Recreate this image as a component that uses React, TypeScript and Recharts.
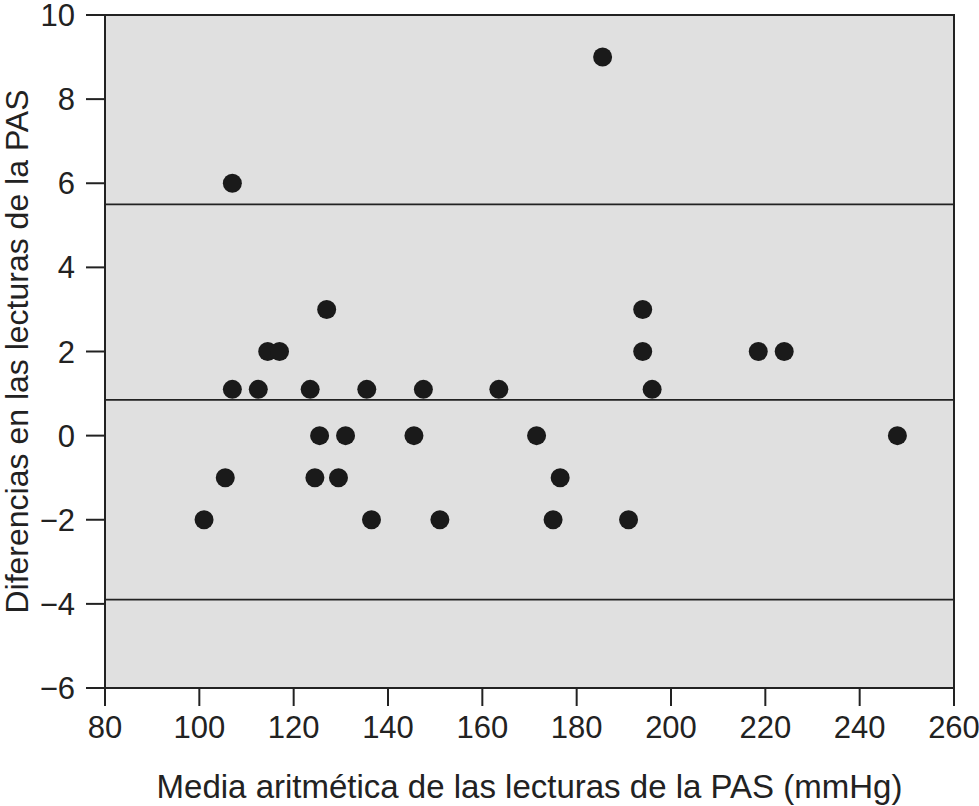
import {
  ScatterChart,
  Scatter,
  XAxis,
  YAxis,
  ReferenceLine,
  ReferenceArea,
} from "recharts";

/* Bland-Altman points: mean of the two readings vs. their difference */
const meanReadings = [
  101, 105.5, 107, 107, 112.5, 114.5, 117, 123.5, 124.5, 125.5, 127, 129.5, 131, 135.5, 136.5,
  145.5, 147.5, 151, 163.5, 171.5, 175, 176.5, 185.5, 191, 194, 194, 196, 218.5, 224, 248,
];
const diffReadings = [
  -2, -1, 6, 1.1, 1.1, 2, 2, 1.1, -1, 0, 3, -1, 0, 1.1, -2,
  0, 1.1, -2, 1.1, 0, -2, -1, 9, -2, 3, 2, 1.1, 2, 2, 0,
];

/* upper limit, mean difference, lower limit */
const limitLines = [5.5, 0.85, -3.9];

const xTicks = [80, 100, 120, 140, 160, 180, 200, 220, 240, 260];
const yTicks = [-6, -4, -2, 0, 2, 4, 6, 8, 10];

const xLabel = "Media aritmética de las lecturas de la PAS (mmHg)";
const yLabel = "Diferencias en las lecturas de la PAS";

const FONT = "'Liberation Sans', Arial, Helvetica, sans-serif";
const INK = "#222222";

function minus(v: number) {
  return String(v).replace("-", "\u2212");
}

export default function App() {
  const points = meanReadings.map((m, i) => ({ mean: m, diff: diffReadings[i] }));

  return (
    <div style={{ position: "absolute", left: 0, top: 0, background: "#fff" }}>
      <ScatterChart
        width={979}
        height={806}
        margin={{ top: 15, right: 25, bottom: 0, left: 0 }}
        style={{ fontFamily: FONT }}
      >
        <ReferenceArea
          x1={80}
          x2={260}
          y1={-6}
          y2={10}
          fill="#e0e0e0"
          fillOpacity={1}
          stroke={INK}
          strokeWidth={2}
        />
        <XAxis
          type="number"
          dataKey="mean"
          domain={[80, 260]}
          ticks={xTicks}
          interval={0}
          height={118}
          tickSize={18}
          tickMargin={10}
          stroke={INK}
          strokeWidth={2}
          tick={{ fontSize: 31, fill: INK, fontFamily: FONT }}
          label={{
            value: xLabel,
            position: "insideBottom",
            offset: 8,
            fontSize: 33,
            fill: INK,
            fontFamily: FONT,
          }}
        />
        <YAxis
          type="number"
          dataKey="diff"
          domain={[-6, 10]}
          ticks={yTicks}
          interval={0}
          width={105}
          tickSize={19}
          tickMargin={11}
          stroke={INK}
          strokeWidth={2}
          tickFormatter={minus}
          tick={{ fontSize: 31, fill: INK, fontFamily: FONT }}
          label={{
            value: yLabel,
            content: (p: any) => {
              const vb = p.viewBox;
              const cy = vb.y + vb.height / 2;
              return (
                <text
                  x={28}
                  y={cy}
                  transform={`rotate(-90, 28, ${cy})`}
                  textAnchor="middle"
                  fontSize={32}
                  fill={INK}
                  fontFamily={FONT}
                >
                  {yLabel}
                </text>
              );
            },
          }}
        />
        {limitLines.map((v) => (
          <ReferenceLine key={v} y={v} stroke={INK} strokeWidth={1.8} />
        ))}
        <Scatter
          data={points}
          isAnimationActive={false}
          shape={(p: any) => <circle cx={p.cx} cy={p.cy} r={9.5} fill="#1a1a1a" />}
        />
      </ScatterChart>
    </div>
  );
}
